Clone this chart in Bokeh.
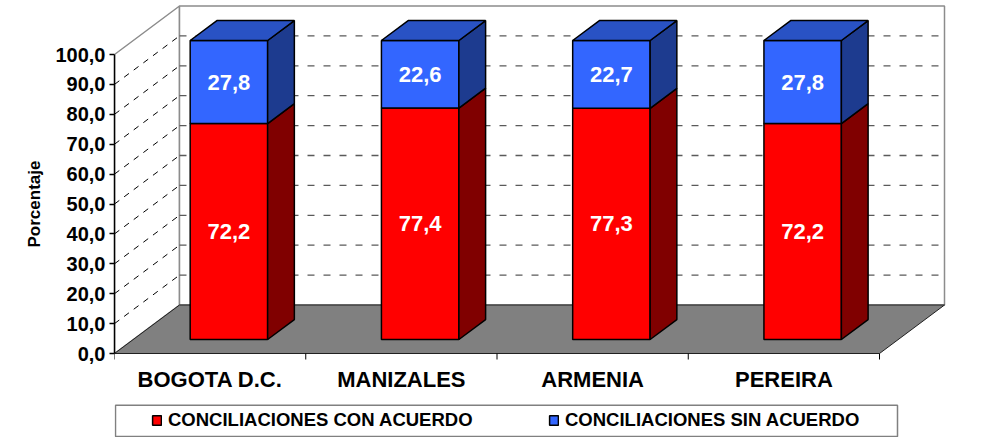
import numpy as np
from bokeh.plotting import figure
from bokeh.models import Range1d, FixedTicker, ColumnDataSource, Legend, LegendItem
from bokeh.core.properties import value
from bokeh.embed import file_html
from bokeh.resources import INLINE

# ---------------- data ----------------
categories = ["BOGOTA D.C.", "MANIZALES", "ARMENIA", "PEREIRA"]
con_acuerdo = [72.2, 77.4, 77.3, 72.2]
sin_acuerdo = [27.8, 22.6, 22.7, 27.8]
series_names = ["CONCILIACIONES CON ACUERDO", "CONCILIACIONES SIN ACUERDO"]
y_ticks = [0, 10, 20, 30, 40, 50, 60, 70, 80, 90, 100]
y_tick_labels = ["0,0", "10,0", "20,0", "30,0", "40,0", "50,0", "60,0",
                 "70,0", "80,0", "90,0", "100,0"]
y_title = "Porcentaje"

# ---------------- layout constants ----------------
FONT = "Liberation Sans"
W, H = 992, 437
LEFT = 114                 # px left panel
PX_PER_CAT = 191.25        # px per category on the front plane
PX_PER_PCT = 2.99          # px per percent unit
ZERO_FROM_TOP = 353        # px from canvas top to value 0

def px_x(px):
    return px / PX_PER_CAT

def px_y(px):
    return px / PX_PER_PCT

x_end = (W - LEFT) / PX_PER_CAT
y_top = ZERO_FROM_TOP / PX_PER_PCT
y_bot = y_top - H / PX_PER_PCT

DX, DY = px_x(65), px_y(48.5)   # full depth offset of the 3D box
D0, D1 = 0.289, 0.70            # bar front/back depth fractions
HW = 0.2025                     # bar half width (category units)
n = len(categories)
NCAT = float(n)
YMAX = 100.0

p = figure(width=W, height=H, output_backend="svg", toolbar_location=None,
           x_range=Range1d(0, x_end), y_range=Range1d(y_bot, y_top),
           x_axis_location=None, min_border_left=LEFT, min_border_right=0,
           min_border_top=0, min_border_bottom=0,
           title=y_title, title_location="left")
p.grid.visible = False
p.outline_line_color = None
p.background_fill_color = "white"
p.border_fill_color = "white"

# vertical axis title: starts (bottom) at offset px above the canvas bottom
p.title.align = "left"
p.title.offset = 190
p.title.text_font = FONT
p.title.text_font_style = "bold"
p.title.text_font_size = "17px"
p.title.text_color = "black"
p.title.standoff = 18

# ---------------- y axis ----------------
ax = p.yaxis[0]
ax.ticker = FixedTicker(ticks=y_ticks)
ax.major_label_overrides = {t: l for t, l in zip(y_ticks, y_tick_labels)}
ax.bounds = (0, YMAX)
ax.axis_line_color = "black"
ax.axis_line_width = 1.5
ax.major_tick_line_color = "black"
ax.major_tick_line_width = 1.5
ax.major_tick_out = 5
ax.major_tick_in = 0
ax.minor_tick_line_color = None
ax.major_label_standoff = 4
ax.major_label_text_font = FONT
ax.major_label_text_font_style = "bold"
ax.major_label_text_font_size = "20px"
ax.major_label_text_color = "black"

# ---------------- walls & floor ----------------
WALL_EDGE = "#8c8c8c"
p.patch([0, DX, DX, 0], [0, DY, YMAX + DY, YMAX], fill_color="white",
        line_color=WALL_EDGE, line_width=1.5)
p.patch([DX, NCAT + DX, NCAT + DX, DX], [DY, DY, YMAX + DY, YMAX + DY],
        fill_color="white", line_color=WALL_EDGE, line_width=1.5)

grid_vals = [t for t in y_ticks if 0 < t < YMAX]
p.segment(x0=[0] * len(grid_vals), y0=grid_vals,
          x1=[DX] * len(grid_vals), y1=[g + DY for g in grid_vals],
          line_color="black", line_width=1, line_dash="6 6")
p.segment(x0=[DX] * len(grid_vals), y0=[g + DY for g in grid_vals],
          x1=[NCAT + DX] * len(grid_vals), y1=[g + DY for g in grid_vals],
          line_color="#5a5a5a", line_width=1.3, line_dash="7 9")

p.patch([0, DX, NCAT + DX, NCAT], [0, DY, DY, 0], fill_color="#808080",
        line_color="#202020", line_width=1)

bounds_x = list(range(n + 1))
p.segment(x0=bounds_x, y0=[0] * len(bounds_x), x1=bounds_x,
          y1=[-px_y(6)] * len(bounds_x), line_color="black", line_width=1)

# ---------------- bars ----------------
centers = np.arange(n) + 0.5
con = np.array(con_acuerdo)
sin = np.array(sin_acuerdo)
ox0, oy0 = D0 * DX, D0 * DY
ox1, oy1 = D1 * DX, D1 * DY

segments = [
    dict(base=np.zeros(n), top=con, front="#FF0000", side="#800000", topc="#CC0000"),
    dict(base=con, top=con + sin, front="#3366FF", side="#1D3B8F", topc="#2952C4"),
]
front_renderers = []
for k, s in enumerate(segments):
    src = ColumnDataSource(dict(
        left=centers - HW + ox0, right=centers + HW + ox0,
        bottom=s["base"] + oy0, top=s["top"] + oy0))
    r = p.quad(left="left", right="right", bottom="bottom", top="top", source=src,
               fill_color=s["front"], line_color="black", line_width=1.5)
    front_renderers.append(r)
    xs, ys = [], []
    for c, b, t in zip(centers, s["base"], s["top"]):
        xr = c + HW
        xs.append([xr + ox0, xr + ox1, xr + ox1, xr + ox0])
        ys.append([b + oy0, b + oy1, t + oy1, t + oy0])
    p.patches(xs, ys, fill_color=s["side"], line_color="black", line_width=1.5)
    if k == len(segments) - 1:
        xs, ys = [], []
        for c, t in zip(centers, s["top"]):
            xs.append([c - HW + ox0, c - HW + ox1, c + HW + ox1, c + HW + ox0])
            ys.append([t + oy0, t + oy1, t + oy1, t + oy0])
        p.patches(xs, ys, fill_color=s["topc"], line_color="black", line_width=1.5)

for s, vals in zip(segments, [con_acuerdo, sin_acuerdo]):
    p.text(x=centers + ox0, y=(s["base"] + s["top"]) / 2 + oy0,
           text=[f"{v:.1f}".replace(".", ",") for v in vals],
           text_color="white", text_font=value(FONT), text_font_style="bold",
           text_font_size="22px", text_align="center", text_baseline="middle")

p.text(x=centers, y=[-px_y(25.7)] * n, text=categories, text_color="black",
       text_font=value(FONT), text_font_style="bold", text_font_size="22px",
       text_align="center", text_baseline="middle")

p.quad(left=[px_x(1)], right=[px_x(783)], top=[-px_y(51.7)], bottom=[-px_y(83)],
       fill_color=None, line_color="#808080", line_width=1.5)

legend = Legend(items=[LegendItem(label=series_names[0], renderers=[front_renderers[0]]),
                       LegendItem(label=series_names[1], renderers=[front_renderers[1]])],
                orientation="horizontal", location=(37, 6), padding=0, spacing=10,
                margin=0, glyph_width=11, glyph_height=12, label_standoff=6,
                label_width=370, label_height=12,
                label_text_font=FONT, label_text_font_style="bold",
                label_text_font_size="18.5px", label_text_color="black",
                border_line_alpha=0, background_fill_alpha=0)
p.add_layout(legend)

open("out.html", "w").write(file_html(p, INLINE))
